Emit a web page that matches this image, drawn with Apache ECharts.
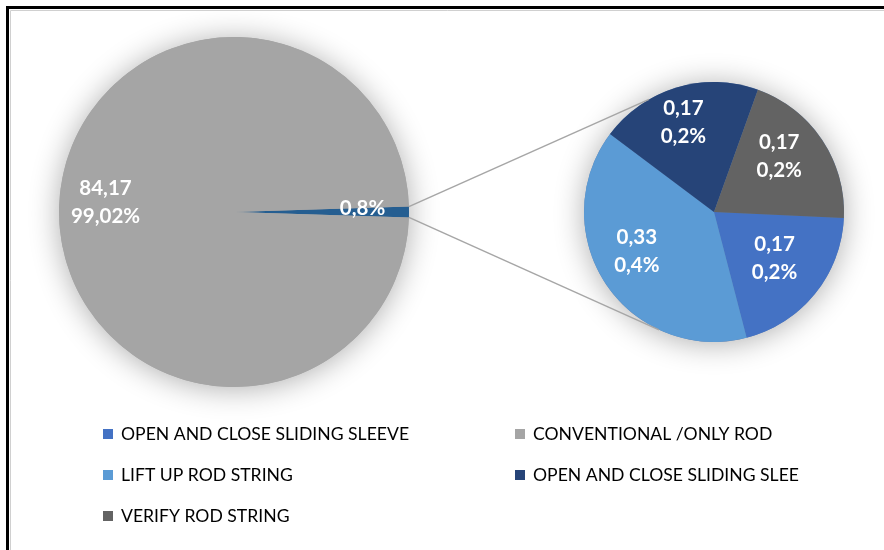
<!DOCTYPE html>
<html>
<head>
<meta charset="utf-8">
<script src="https://cdn.jsdelivr.net/npm/echarts@6/dist/echarts.min.js"></script>
<style>
  html, body { margin: 0; padding: 0; background: #fff; }
  #chart { width: 884px; height: 550px; }
</style>
</head>
<body>
<div id="chart"></div>
<script>
// Main pie: the conventional share plus the grouped remainder
const mainName = 'CONVENTIONAL /ONLY ROD';
const mainValue = 84.17;
const mainPercentLabel = '99,02%';
const otherName = 'Other';
const otherPercentLabel = '0,8%';

// Secondary pie: breakdown of the grouped remainder
const detailNames = [
  'OPEN AND CLOSE SLIDING SLEEVE',
  'LIFT UP ROD STRING',
  'OPEN AND CLOSE SLIDING SLEE',
  'VERIFY ROD STRING'
];
const detailValues = [0.17, 0.33, 0.17, 0.17];
const detailPercentLabels = ['0,2%', '0,4%', '0,2%', '0,2%'];

// Legend columns
const legendLeft = ['OPEN AND CLOSE SLIDING SLEEVE', 'LIFT UP ROD STRING', 'VERIFY ROD STRING'];
const legendRight = ['CONVENTIONAL /ONLY ROD', 'OPEN AND CLOSE SLIDING SLEE'];

// Colours
const detailColors = ['#4472C4', '#5B9BD5', '#264478', '#636363'];
const mainColor = '#A5A5A5';
const otherColor = '#255E91';

// Layout
const C1 = [234, 212], R1 = 175;
const C2 = [714, 212], R2 = 130;
const detailStart = -2.6;
const FONT = 'Lato, "Open Sans", sans-serif';

const otherValue = detailValues.reduce((a, b) => a + b, 0);
const total = mainValue + otherValue;
const halfSliver = otherValue / total * 180;

const fmt = v => String(v).replace('.', ',');

// push inside labels outward from their default half-radius position
function radialLabel(center, k, shiftX, lift) {
  return function (p) {
    const r = p.labelRect;
    const lx = r.x + r.width / 2, ly = r.y + r.height / 2;
    const vx = lx - center[0], vy = ly - center[1];
    const s = k / 0.5 - 1;
    const twoLines = p.text.indexOf('\n') >= 0;
    return { dx: vx * s + shiftX, dy: vy * s + (twoLines ? lift : -4) };
  };
}

// connector lines between the remainder slice and the secondary pie
const rad = Math.PI / 180;
const p1 = [C1[0] + R1 * Math.cos(halfSliver * rad), C1[1] - R1 * Math.sin(halfSliver * rad)];
const p2 = [C1[0] + R1 * Math.cos(halfSliver * rad), C1[1] + R1 * Math.sin(halfSliver * rad)];
const q1 = [C2[0] + R2 * Math.cos(120 * rad), C2[1] - R2 * Math.sin(120 * rad)];
const q2 = [C2[0] + R2 * Math.cos(115 * rad), C2[1] + R2 * Math.sin(115 * rad)];

const labelStyle = {
  show: true,
  position: 'inside',
  color: '#fff',
  fontFamily: FONT,
  fontWeight: 'bold',
  fontSize: 20.5,
  lineHeight: 28
};

// soft glow disc drawn underneath each pie
const shadowDisc = (center, radius, fill) => ({
  type: 'pie',
  silent: true,
  center: center,
  radius: radius,
  z: 1,
  label: { show: false },
  labelLine: { show: false },
  itemStyle: { color: fill, borderWidth: 0, shadowBlur: 30, shadowColor: 'rgba(0,0,0,0.32)', shadowOffsetY: 2 },
  data: [{ value: 1, name: '' }],
  legendHoverLink: false
});

const legendText = { fontFamily: FONT, fontSize: 17.6, color: '#000', lineHeight: 20, padding: [0, 0, 0, 3] };

const chart = echarts.init(document.getElementById('chart'), null, { renderer: 'canvas' });
chart.setOption({
  animation: false,
  backgroundColor: '#fff',
  legend: [
    {
      orient: 'vertical', left: 98, top: 419, itemWidth: 10, itemHeight: 10, itemGap: 21,
      icon: 'rect', selectedMode: false, data: legendLeft, textStyle: legendText
    },
    {
      orient: 'vertical', left: 510, top: 419, itemWidth: 10, itemHeight: 10, itemGap: 21,
      icon: 'rect', selectedMode: false, data: legendRight, textStyle: legendText
    }
  ],
  graphic: [
    { type: 'rect', shape: { x: 7.5, y: 7.5, width: 1000, height: 1000 }, style: { fill: null, stroke: '#000', lineWidth: 3 }, z: 10 },
    { type: 'polyline', shape: { points: [[10.5, 1000], [10.5, 10.5], [1000, 10.5]] }, style: { fill: null, stroke: '#d0d0d0', lineWidth: 1 }, z: 10 },
    { type: 'line', shape: { x1: p1[0], y1: p1[1], x2: q1[0], y2: q1[1] }, style: { stroke: '#A6A6A6', lineWidth: 1.5 }, z: 5 },
    { type: 'line', shape: { x1: p2[0], y1: p2[1], x2: q2[0], y2: q2[1] }, style: { stroke: '#A6A6A6', lineWidth: 1.5 }, z: 5 }
  ],
  series: [
    shadowDisc(C1, R1, mainColor),
    shadowDisc(C2, R2, '#5f7fae'),
    {
      type: 'pie',
      center: C1,
      radius: R1,
      startAngle: halfSliver,
      clockwise: true,
      z: 2,
      itemStyle: { borderWidth: 0 },
      label: Object.assign({}, labelStyle, {
        formatter: p => p.name === otherName ? otherPercentLabel : fmt(p.value) + '\n' + mainPercentLabel
      }),
      labelLine: { show: false },
      labelLayout: radialLabel(C1, 0.71, 0, -10),
      data: [
        { name: otherName, value: otherValue, itemStyle: { color: otherColor } },
        { name: mainName, value: mainValue, itemStyle: { color: mainColor } }
      ]
    },
    {
      type: 'pie',
      center: C2,
      radius: R2,
      startAngle: detailStart,
      clockwise: true,
      z: 2,
      itemStyle: { borderWidth: 0 },
      label: Object.assign({}, labelStyle, {
        formatter: p => fmt(p.value) + '\n' + detailPercentLabels[p.dataIndex]
      }),
      labelLine: { show: false },
      labelLayout: radialLabel(C2, 0.63, -6, -8),
      data: detailNames.map((n, i) => ({ name: n, value: detailValues[i], itemStyle: { color: detailColors[i] } }))
    }
  ]
});
</script>
</body>
</html>
